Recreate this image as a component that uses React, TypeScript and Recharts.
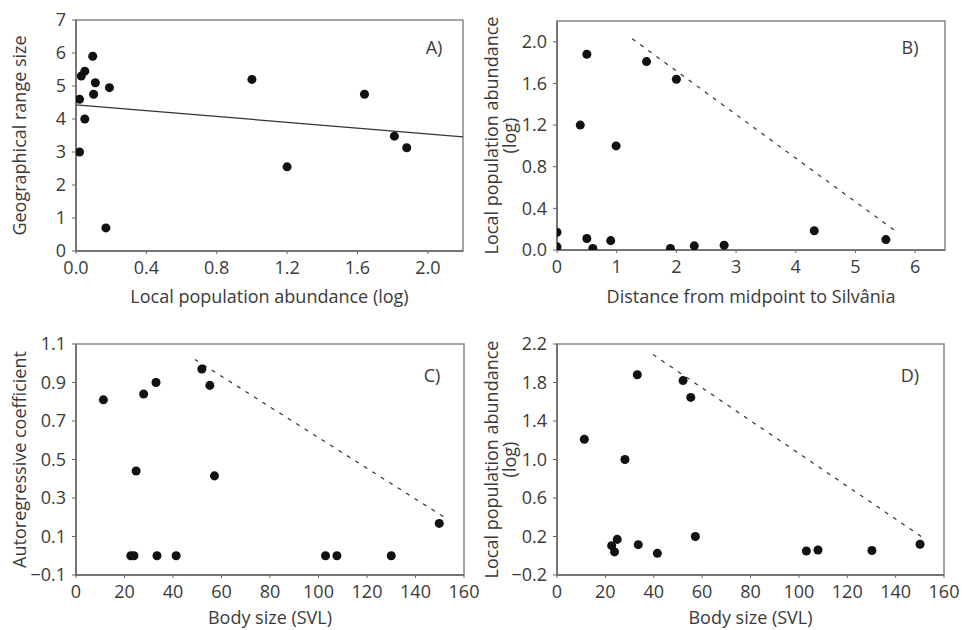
import React from 'react';
import { ScatterChart, Scatter, XAxis, YAxis, ReferenceLine, ReferenceArea } from 'recharts';

// Panel A: abundance vs geographical range size
const aX = [0.02, 0.02, 0.03, 0.05, 0.05, 0.095, 0.11, 0.1, 0.19, 0.17, 1.0, 1.2, 1.64, 1.81, 1.88];
const aY = [3.0, 4.6, 5.3, 5.45, 4.0, 5.9, 5.1, 4.75, 4.95, 0.7, 5.2, 2.55, 4.75, 3.48, 3.13];
const aXTicks = [0, 0.4, 0.8, 1.2, 1.6, 2.0];
const aYTicks = [0, 1, 2, 3, 4, 5, 6, 7];
const aLine = [[0, 4.43], [2.2, 3.46]];

// Panel B: distance vs abundance
const bX = [0, 0, 0.5, 0.39, 0.5, 0.6, 0.9, 0.99, 1.5, 2.0, 1.9, 2.3, 2.8, 4.31, 5.51];
const bY = [0.17, 0.03, 1.88, 1.2, 0.11, 0.015, 0.09, 1.0, 1.81, 1.64, 0.015, 0.04, 0.045, 0.185, 0.1];
const bXTicks = [0, 1, 2, 3, 4, 5, 6];
const bYTicks = [0, 0.4, 0.8, 1.2, 1.6, 2.0];
const bLine = [[1.26, 2.03], [5.7, 0.17]];

// Panel C: body size vs autoregressive coefficient
const cX = [11.3, 22.6, 23.9, 24.8, 27.9, 33.0, 33.4, 41.3, 51.9, 55.2, 57.1, 102.9, 107.6, 130.0, 149.8];
const cY = [0.81, 0, 0, 0.44, 0.84, 0.9, 0, 0, 0.97, 0.885, 0.415, 0, 0, 0, 0.168];
const cXTicks = [0, 20, 40, 60, 80, 100, 120, 140, 160];
const cYTicks = [-0.1, 0.1, 0.3, 0.5, 0.7, 0.9, 1.1];
const cLine = [[49, 1.02], [151.9, 0.2]];

// Panel D: body size vs abundance
const dX = [11.3, 22.6, 23.8, 24.9, 28.1, 33.2, 33.6, 41.5, 52.1, 55.3, 57.2, 103.1, 107.9, 130.2, 150.1];
const dY = [1.21, 0.105, 0.04, 0.17, 1.0, 1.88, 0.115, 0.025, 1.82, 1.645, 0.2, 0.05, 0.06, 0.055, 0.12];
const dXTicks = [0, 20, 40, 60, 80, 100, 120, 140, 160];
const dYTicks = [-0.2, 0.2, 0.6, 1.0, 1.4, 1.8, 2.2];
const dLine = [[39.7, 2.09], [152.4, 0.17]];

const FONT = '"Open Sans", "Noto Sans", sans-serif';
const TEXT = '#3a3a3a';
const AXIS = '#666';
const FS = 18;

const fmt1 = (v: number) => (v < 0 ? '\u2212' + Math.abs(v).toFixed(1) : v.toFixed(1));
const fmt0 = (v: number) => String(v);

interface PanelProps {
    left: number
    top: number
    width: number
    height: number
    margin: { top: number, right: number, left: number, bottom: number }
    yWidth: number
    xHeight: number
    xs: number[]
    ys: number[]
    xDomain: [number, number]
    yDomain: [number, number]
    xTicks: number[]
    yTicks: number[]
    xFmt: (v: number) => string
    yFmt: (v: number) => string
    xTitle: string
    xTitleDy: number
    yTitle: string[]
    yTitleX: number[]
    tag: string
    tagPos: [number, number]
    line: number[][]
    dashed: boolean
}

function Panel(p: PanelProps) {
    const data = p.xs.map((x, i) => ({ x, y: p.ys[i] }))

    const xLabel = (props: any) => {
        const vb = props.viewBox
        return (
            <text x={vb.x + vb.width / 2} y={vb.y + p.xTitleDy} textAnchor="middle" dominantBaseline="central"
                fill={TEXT} fontSize={FS} fontFamily={FONT}>{p.xTitle}</text>
        )
    }

    const yLabel = (props: any) => {
        const vb = props.viewBox
        const cy = vb.y + vb.height / 2
        return (
            <g>
                {p.yTitle.map((t, i) => (
                    <text key={i} x={p.yTitleX[i]} y={cy} textAnchor="middle" dominantBaseline="central"
                        transform={`rotate(-90, ${p.yTitleX[i]}, ${cy})`}
                        fill={TEXT} fontSize={FS} fontFamily={FONT}>{t}</text>
                ))}
            </g>
        )
    }

    return (
        <div style={{ position: 'absolute', left: p.left, top: p.top, width: p.width, height: p.height }}>
            <ScatterChart width={p.width} height={p.height} margin={p.margin}>
                <XAxis type="number" dataKey="x" domain={p.xDomain} ticks={p.xTicks} tickFormatter={p.xFmt}
                    height={p.xHeight} allowDataOverflow interval={0}
                    axisLine={{ stroke: AXIS, strokeWidth: 1.5 }} tickLine={{ stroke: AXIS }} tickSize={3} tickMargin={7}
                    tick={{ fill: TEXT, fontSize: FS, fontFamily: FONT }} label={xLabel} />
                <YAxis type="number" dataKey="y" domain={p.yDomain} ticks={p.yTicks} tickFormatter={p.yFmt}
                    width={p.yWidth} allowDataOverflow interval={0}
                    axisLine={{ stroke: AXIS, strokeWidth: 1.5 }} tickLine={{ stroke: AXIS }} tickSize={4} tickMargin={6}
                    tick={{ fill: TEXT, fontSize: FS, fontFamily: FONT }} label={yLabel} />
                <ReferenceArea x1={p.xDomain[0]} x2={p.xDomain[1]} y1={p.yDomain[0]} y2={p.yDomain[1]}
                    fill="none" stroke="#888" strokeWidth={1.5} ifOverflow="visible" />
                <ReferenceLine segment={[{ x: p.line[0][0], y: p.line[0][1] }, { x: p.line[1][0], y: p.line[1][1] }]}
                    stroke="#333" strokeWidth={1.2} strokeDasharray={p.dashed ? '4 6' : undefined} ifOverflow="visible" />
                <Scatter data={data} fill="#111" isAnimationActive={false} />
            </ScatterChart>
            <div style={{
                position: 'absolute', left: p.tagPos[0], top: p.tagPos[1], transform: 'translate(-50%, -50%)',
                fontFamily: FONT, fontSize: FS, color: TEXT
            }}>{p.tag}</div>
        </div>
    )
}

export default function App() {
    return (
        <div style={{ position: 'absolute', left: 0, top: 0, width: 962, height: 630, background: '#fff' }}>
            <Panel left={0} top={0} width={480} height={310}
                margin={{ top: 20, right: 17, left: 0, bottom: 0 }} yWidth={76} xHeight={59}
                xs={aX} ys={aY} xDomain={[0, 2.2]} yDomain={[0, 7]} xTicks={aXTicks} yTicks={aYTicks}
                xFmt={fmt1} yFmt={fmt0} xTitle="Local population abundance (log)" xTitleDy={45}
                yTitle={['Geographical range size']} yTitleX={[19]}
                tag="A)" tagPos={[434, 47]} line={aLine} dashed={false} />
            <Panel left={480} top={0} width={482} height={310}
                margin={{ top: 21, right: 17, left: 0, bottom: 0 }} yWidth={77} xHeight={60}
                xs={bX} ys={bY} xDomain={[0, 6.5]} yDomain={[0, 2.2]} xTicks={bXTicks} yTicks={bYTicks}
                xFmt={fmt0} yFmt={fmt1} xTitle="Distance from midpoint to Silvânia" xTitleDy={46}
                yTitle={['Local population abundance', '(log)']} yTitleX={[11, 29]}
                tag="B)" tagPos={[430, 47]} line={bLine} dashed={true} />
            <Panel left={0} top={320} width={480} height={310}
                margin={{ top: 24, right: 16, left: 0, bottom: 0 }} yWidth={76} xHeight={55}
                xs={cX} ys={cY} xDomain={[0, 160]} yDomain={[-0.1, 1.1]} xTicks={cXTicks} yTicks={cYTicks}
                xFmt={fmt0} yFmt={fmt1} xTitle="Body size (SVL)" xTitleDy={42}
                yTitle={['Autoregressive coefficient']} yTitleX={[19]}
                tag="C)" tagPos={[432, 55]} line={cLine} dashed={true} />
            <Panel left={480} top={320} width={482} height={310}
                margin={{ top: 24, right: 18, left: 0, bottom: 0 }} yWidth={77} xHeight={55}
                xs={dX} ys={dY} xDomain={[0, 160]} yDomain={[-0.2, 2.2]} xTicks={dXTicks} yTicks={dYTicks}
                xFmt={fmt0} yFmt={fmt1} xTitle="Body size (SVL)" xTitleDy={42}
                yTitle={['Local population abundance', '(log)']} yTitleX={[11, 29]}
                tag="D)" tagPos={[430, 55]} line={dLine} dashed={true} />
        </div>
    )
}
